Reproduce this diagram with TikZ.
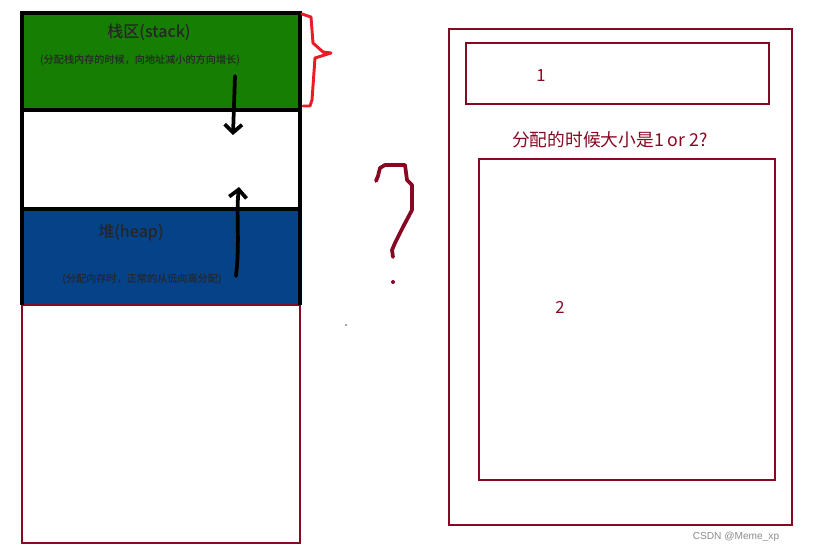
\documentclass[tikz,border=0pt]{standalone}
\usepackage{fontspec}
\newfontfamily\cjk{Noto Sans CJK SC}
\newfontfamily\cjkmed{Noto Sans CJK SC Medium}
\newfontfamily\wm{Liberation Sans}
\usepackage{tikz}
\usetikzlibrary{arrows.meta,positioning}
\definecolor{StackGreen}{RGB}{22,126,2}
\definecolor{HeapBlue}{RGB}{6,66,136}
\definecolor{MemRed}{RGB}{134,8,34}
\definecolor{BraceRed}{RGB}{232,28,36}
\definecolor{MarkGray}{RGB}{140,140,140}

\begin{document}
\begin{tikzpicture}[x=0.75pt,y=-0.75pt,>={Straight Barb[length=6pt,width=13pt]},
    seg/.style={line width=2.4pt,black},
    box/.style={line width=2.2pt,MemRed},
    lbl/.style={font=\cjkmed\fontsize{12}{14}\selectfont,text=black!85},
    note/.style={font=\cjkmed\fontsize{7.6}{9}\selectfont,text=black!85},
    tag/.style={font=\cjk\fontsize{12.5}{15}\selectfont,text=MemRed},
    hand/.style={line width=2.8pt,line cap=round,line join=round}]
      \useasboundingbox (0,0) rectangle (817,553);
      % memory layout
      \fill[StackGreen] (22,13) rectangle (300,110);
      \fill[HeapBlue] (22,209) rectangle (300,305);
      \draw[box] (22,305) rectangle (300,543);
      \draw[seg] (22,305)--(22,13)--(300,13)--(300,305);
      \draw[seg] (22,110)--(300,110);
      \draw[seg] (22,209)--(300,209);
      \node[lbl] (stack) at (149,32) {栈区(stack)};
      \node[note] (stacknote) at (140,60) {(分配栈内存的时候，向地址减小的方向增长)};
      \node[lbl] (heap) at (131,233) {堆(heap)};
      \node[note] (heapnote) at (142,279) {(分配内存时，正常的从低向高分配)};
      \coordinate (downA) at (235,76);
      \coordinate (downB) at (233,135);
      \coordinate (upA) at (236,276);
      \coordinate (upB) at (239,187);
      \draw[->,hand] (downA)--(downB);
      \draw[->,hand] (upA) .. controls (240,240) and (236,215) .. (upB);
      % brace
      \draw[hand,BraceRed,line width=2.2pt] (302,14)--(311,17)--(313,43)--(323,52)
        --(331,53)--(315,58)--(312,100)--(310,106)--(303,106);
      % question mark
      \draw[hand,MemRed,line width=2.8pt] (376,181)--(378,176)--(380,168)--(385,165)
        --(405,165)--(407,180)--(412,185)--(412,210)--(403,227)--(395,243)
        --(392,250)--(393,257);
      \fill[MemRed] (393,282) circle (2);
      \fill[black!70] (346,325) circle (0.9);
      % right side
      \draw[box] (449,29) rectangle (792,525);
      \draw[box] (466,43) rectangle (769,104);
      \draw[box] (479,159) rectangle (775,480);
      \node[tag] (one) at (541,76) {1};
      \node[tag] (two) at (560,307) {2};
      \node[tag,font=\cjk\fontsize{13.3}{16}\selectfont] (ask) at (610,140)
        {分配的时候大小是1 or 2?};
      \node[font=\wm\fontsize{7.6}{9}\selectfont,text=MarkGray] (mark) at (736,537)
        {CSDN @Meme\_xp};
\end{tikzpicture}
\end{document}
